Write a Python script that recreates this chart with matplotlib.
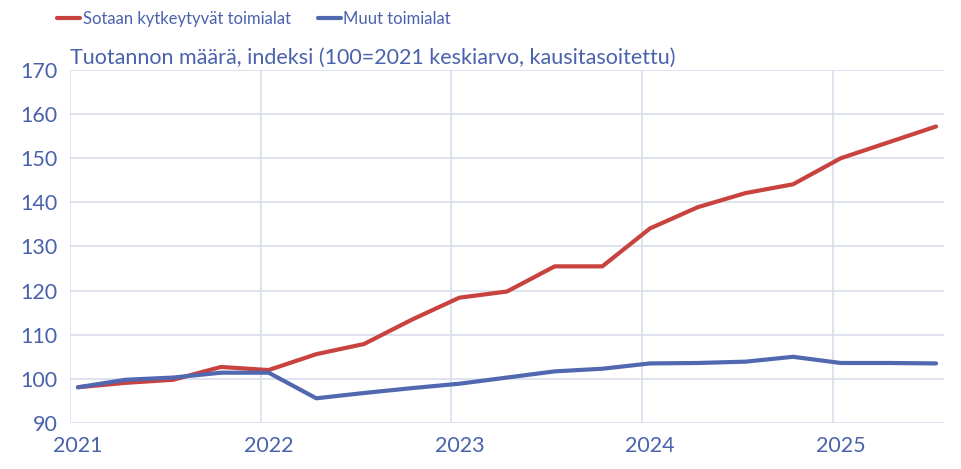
import numpy as np
import matplotlib
matplotlib.use("Agg")
import matplotlib.pyplot as plt
from matplotlib.ticker import FixedLocator

plt.rcParams["font.family"] = ["Lato", "DejaVu Sans"]

# Quarterly data, 2021Q1 .. 2025Q3
years = [2021, 2022, 2023, 2024, 2025]
quarter_year = [2021] * 4 + [2022] * 4 + [2023] * 4 + [2024] * 4 + [2025] * 3
quarter_num = [1, 2, 3, 4] * 4 + [1, 2, 3]
war_related = [98.1, 99.1, 99.8, 102.7, 102.0, 105.6, 107.9, 113.4,
               118.4, 119.8, 125.5, 125.5, 134.1, 138.9, 142.1, 144.1,
               150.0, 153.6, 157.2]
other = [98.1, 99.8, 100.3, 101.4, 101.4, 95.6, 96.8, 97.9,
         98.9, 100.3, 101.7, 102.3, 103.5, 103.6, 103.9, 105.0,
         103.6, 103.6, 103.5]
label_war = "Sotaan kytkeytyvät toimialat"
label_other = "Muut toimialat"
subtitle = "Tuotannon määrä, indeksi (100=2021 keskiarvo, kausitasoitettu)"

RED = "#C8423F"
BLUE = "#5168B0"
TEXT = "#4A62AC"
GRID = "#D9DEEC"

# position of each quarter: middle of its first month
x = np.array(quarter_year) + ((np.array(quarter_num) - 1) * 3 + 0.5) / 12

fig = plt.figure(figsize=(9.62, 4.69), dpi=100)
ax = fig.add_axes([70 / 962, 1 - 423 / 469, 874 / 962, 353 / 469])

l1, = ax.plot(x, war_related, color=RED, lw=3, solid_capstyle="round",
              solid_joinstyle="round", label=label_war, zorder=3)
l2, = ax.plot(x, other, color=BLUE, lw=3, solid_capstyle="round",
              solid_joinstyle="round", label=label_other, zorder=4)

ax.set_xlim(2021, 2025 + 7 / 12)
ax.set_ylim(90, 170)
ax.set_yticks(np.arange(90, 171, 10))
ax.set_xticks([y + 0.5 / 12 for y in years])
ax.set_xticklabels([str(y) for y in years])
ax.xaxis.set_minor_locator(FixedLocator(years))
ax.grid(axis="y", color=GRID, lw=1.2)
ax.grid(axis="x", which="minor", color=GRID, lw=1.2)
ax.set_axisbelow(True)
for s in ax.spines.values():
    s.set_visible(False)
ax.tick_params(which="both", length=0, labelsize=15.5, labelcolor=TEXT)
ax.tick_params(axis="y", pad=9)
ax.tick_params(axis="x", pad=9)

fig.text(70 / 962, 1 - 58 / 469, subtitle, fontsize=15.5, color=TEXT,
         va="center", ha="left")

leg = fig.legend(handles=[l1, l2], loc="center left",
                 bbox_to_anchor=(57 / 962, 1 - 19 / 469), ncol=2,
                 frameon=False, handlelength=1.4, fontsize=12,
                 handletextpad=0.15, columnspacing=1.6, borderaxespad=0,
                 borderpad=0)
for t in leg.get_texts():
    t.set_color(TEXT)

fig.savefig("out.png", dpi=100)
